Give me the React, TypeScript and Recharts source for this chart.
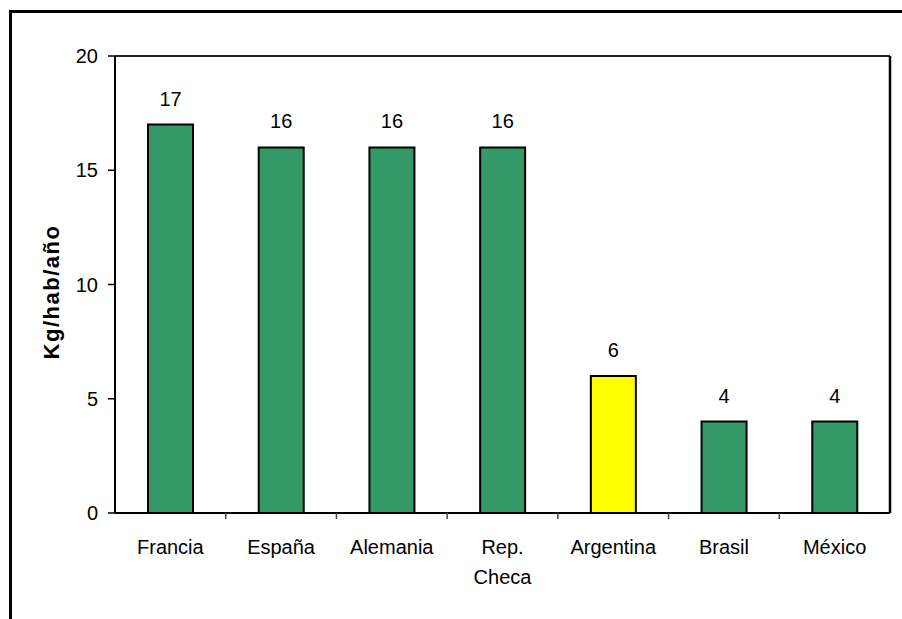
import {
  BarChart,
  Bar,
  Cell,
  XAxis,
  YAxis,
  CartesianGrid,
  ReferenceLine,
  LabelList,
} from "recharts";

const COUNTRIES = ["Francia", "España", "Alemania", "Rep.\nCheca", "Argentina", "Brasil", "México"];
const CONSUMPTION = [17, 16, 16, 16, 6, 4, 4];
const HIGHLIGHT = "Argentina";
const Y_TICKS = [0, 5, 10, 15, 20];

const GREEN = "#339966";
const YELLOW = "#ffff00";
const FONT = "'Liberation Sans', Arial, sans-serif";

const W = 902;
const H = 619;
const PLOT_LEFT = 115;
const PLOT_RIGHT = 890;
const BAND = (PLOT_RIGHT - PLOT_LEFT) / COUNTRIES.length;

const data = COUNTRIES.map((name, i) => ({ name, value: CONSUMPTION[i] }));

// category label plus the small divider tick at the right edge of the band
function CountryTick(props: any) {
  const { x, y, payload, index } = props;
  const lines = String(payload.value).split("\n");
  return (
    <g>
      {index < COUNTRIES.length - 1 && (
        <line x1={x + BAND / 2} x2={x + BAND / 2} y1={y} y2={y + 6} stroke="#444" strokeWidth={1.5} />
      )}
      <text x={x} y={y + 41} textAnchor="middle" fontSize={20} fontFamily={FONT} fill="#000">
        {lines.map((l, i) => (
          <tspan key={i} x={x} dy={i === 0 ? 0 : 30}>
            {l}
          </tspan>
        ))}
      </text>
    </g>
  );
}

export default function App() {
  return (
    <div
      style={{
        position: "absolute",
        left: 0,
        top: 0,
        width: W,
        height: H,
        overflow: "hidden",
        background: "#fff",
      }}
    >
      <div
        style={{
          position: "absolute",
          left: 9,
          top: 10,
          width: 1000,
          height: 1000,
          border: "3px solid #000",
        }}
      />
      <BarChart
        width={W}
        height={H}
        data={data}
        margin={{ top: 56, right: 0, bottom: 0, left: 0 }}
        style={{ position: "absolute", left: 0, top: 0 }}
      >
        <CartesianGrid vertical={false} stroke="#8a8a8a" strokeWidth={1} />
        <XAxis
          dataKey="name"
          height={106}
          interval={0}
          tickLine={false}
          tickSize={0}
          tickMargin={0}
          axisLine={{ stroke: "#000", strokeWidth: 2 }}
          tick={<CountryTick />}
        />
        <YAxis
          yAxisId="left"
          width={PLOT_LEFT}
          domain={[0, 20]}
          ticks={Y_TICKS}
          interval={0}
          tickSize={7}
          tickMargin={10}
          axisLine={{ stroke: "#000", strokeWidth: 2 }}
          tickLine={{ stroke: "#000", strokeWidth: 1.5 }}
          tick={{ fill: "#000", fontSize: 20, fontFamily: FONT }}
          label={{
            content: () => (
              <text
                x={59}
                y={292}
                transform="rotate(-90 59 292)"
                textAnchor="middle"
                fontSize={22}
                fontWeight="bold"
                letterSpacing={1.5}
                fontFamily={FONT}
                fill="#000"
              >
                Kg/hab/año
              </text>
            ),
          }}
        />
        <YAxis
          yAxisId="right"
          orientation="right"
          width={W - PLOT_RIGHT}
          domain={[0, 20]}
          tick={false}
          tickLine={false}
          axisLine={{ stroke: "#000", strokeWidth: 2.5 }}
        />
        <ReferenceLine yAxisId="left" y={20} stroke="#222" strokeWidth={2} />
        <Bar
          yAxisId="left"
          dataKey="value"
          barSize={45}
          stroke="#000"
          strokeWidth={2}
          isAnimationActive={false}
        >
          {data.map((d) => (
            <Cell key={d.name} fill={d.name === HIGHLIGHT ? YELLOW : GREEN} />
          ))}
          <LabelList
            dataKey="value"
            position="top"
            offset={19}
            fill="#000"
            fontSize={20}
            fontFamily={FONT}
          />
        </Bar>
      </BarChart>
    </div>
  );
}
